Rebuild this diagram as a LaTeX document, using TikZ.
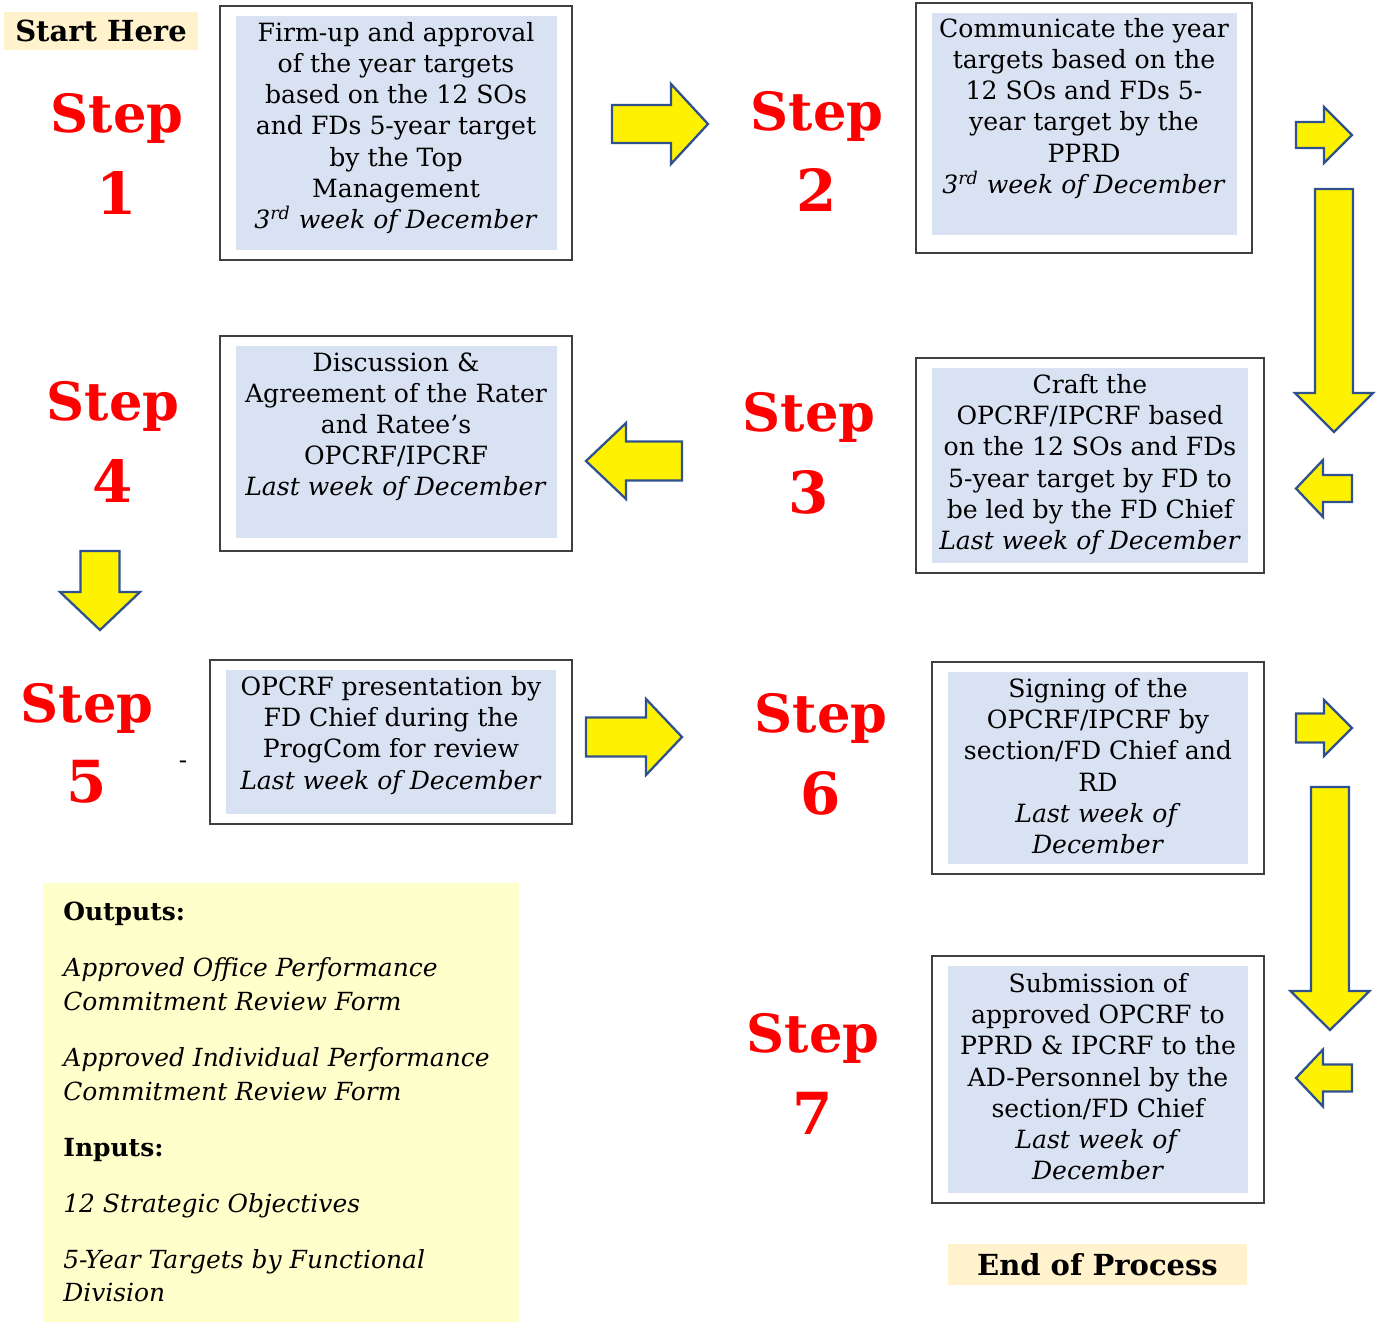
\documentclass[tikz,border=0pt]{standalone}
\usepackage{fontspec}
\setmainfont{DejaVu Serif}
\usepackage{tikz}
\usepackage{xcolor}

\definecolor{stepred}{HTML}{FF0000}
\definecolor{panelblue}{HTML}{D9E2F3}
\definecolor{tagtan}{HTML}{FFF2CC}
\definecolor{notepale}{HTML}{FFFFCC}
\definecolor{arrowline}{HTML}{2F528F}
\definecolor{framegray}{HTML}{404040}

% block arrows: tail, tip, head base, middle, head half width, shaft half width
\newcommand{\hblock}[6]{\draw[blockarrow] (#1,#4-#6) -- (#3,#4-#6) -- (#3,#4-#5) -- (#2,#4) -- (#3,#4+#5) -- (#3,#4+#6) -- (#1,#4+#6) -- cycle;}
\newcommand{\vblock}[6]{\draw[blockarrow] (#4-#6,#1) -- (#4-#6,#3) -- (#4-#5,#3) -- (#4,#2) -- (#4+#5,#3) -- (#4+#6,#3) -- (#4+#6,#1) -- cycle;}

\begin{document}
\begin{tikzpicture}[x=0.02cm,y=-0.02cm,line join=miter,
  blockarrow/.style={fill=yellow,draw=arrowline,line width=1.3pt},
  frame/.style={draw=framegray,line width=0.9pt},
  panel/.style={fill=panelblue},
  boxtext/.style={inner sep=0pt,align=center,font=\fontsize{14.3}{17.75}\selectfont},
  steplbl/.style={inner sep=0pt,text=stepred,font=\fontsize{30}{31}\bfseries\selectfont},
  stepnum/.style={inner sep=0pt,text=stepred,font=\fontsize{33}{34}\bfseries\selectfont},
  tagbox/.style={fill=tagtan,inner sep=0pt,text depth=0pt,font=\fontsize{16.5}{18}\bfseries\selectfont}]
\useasboundingbox (0,0) rectangle (1381,1324);

% start
\node[tagbox,minimum width=3.88cm,minimum height=0.76cm] (start) at (101,31) {Start Here};

% step 1
\node[steplbl,anchor=base] (s1) at (117,133) {Step};
\node[stepnum,anchor=base] (n1) at (117,215) {1};
\draw[frame] (220,6) rectangle (572,260);
\fill[panel] (236,16) rectangle (557,250);
\node[boxtext,anchor=north] (t1) at (396,22) {Firm-up and approval\\of the year targets\\based on the 12 SOs\\and FDs 5-year target\\by the Top\\Management\\\textit{3\textsuperscript{rd} week of December}};
\hblock{612}{708}{671}{124}{40}{19}

% step 2
\node[steplbl,anchor=base] (s2) at (817,131) {Step};
\node[stepnum,anchor=base] (n2) at (817,212) {2};
\draw[frame] (916,3) rectangle (1252,253);
\fill[panel] (932,13) rectangle (1237,235);
\node[boxtext,anchor=north] (t2) at (1084,18) {Communicate the year\\targets based on the\\12 SOs and FDs 5-\\year target by the\\PPRD\\\textit{3\textsuperscript{rd} week of December}};
\hblock{1296}{1352}{1324}{135}{28}{13}
\vblock{189}{432}{393}{1334}{39}{19}
\hblock{1352}{1296}{1323}{488.5}{28.5}{13.5}

% step 3
\node[steplbl,anchor=base] (s3) at (809,431) {Step};
\node[stepnum,anchor=base] (n3) at (809,513) {3};
\draw[frame] (916,358) rectangle (1264,573);
\fill[panel] (932,368) rectangle (1248,563);
\node[boxtext,anchor=north] (t3) at (1090,374) {Craft the\\OPCRF/IPCRF based\\on the 12 SOs and FDs\\5-year target by FD to\\be led by the FD Chief\\\textit{Last week of December}};
\hblock{682}{586}{626}{461}{38}{19.5}

% step 4
\node[steplbl,anchor=base] (s4) at (113,420) {Step};
\node[stepnum,anchor=base] (n4) at (113,502) {4};
\draw[frame] (220,336) rectangle (572,551);
\fill[panel] (236,346) rectangle (557,538);
\node[boxtext,anchor=north] (t4) at (396,352) {Discussion \&\\Agreement of the Rater\\and Ratee’s\\OPCRF/IPCRF\\\textit{Last week of December}};
\vblock{551}{630}{592}{100}{40}{19.5}

% step 5
\node[steplbl,anchor=base] (s5) at (87,722) {Step};
\node[stepnum,anchor=base] (n5) at (87,802) {5};
\node[inner sep=0pt,font=\fontsize{14}{17}\selectfont] (dash5) at (183,765) {-};
\draw[frame] (210,660) rectangle (572,824);
\fill[panel] (226,670) rectangle (556,814);
\node[boxtext,anchor=north] (t5) at (391,676) {OPCRF presentation by\\FD Chief during the\\ProgCom for review\\\textit{Last week of December}};
\hblock{586}{682}{646}{737}{38}{19.5}

% step 6
\node[steplbl,anchor=base] (s6) at (821,732) {Step};
\node[stepnum,anchor=base] (n6) at (821,814) {6};
\draw[frame] (932,662) rectangle (1264,874);
\fill[panel] (948,672) rectangle (1248,864);
\node[boxtext,anchor=north] (t6) at (1098,678) {Signing of the\\OPCRF/IPCRF by\\section/FD Chief and\\RD\\\textit{Last week of}\\\textit{December}};
\hblock{1296}{1352}{1324}{728}{28}{14.5}
\vblock{787}{1030}{991}{1330}{39.5}{19}
\hblock{1352}{1296}{1323}{1078}{28.5}{13.5}

% step 7
\node[steplbl,anchor=base] (s7) at (813,1052) {Step};
\node[stepnum,anchor=base] (n7) at (813,1134) {7};
\draw[frame] (932,956) rectangle (1264,1203);
\fill[panel] (948,966) rectangle (1248,1193);
\node[boxtext,anchor=north] (t7) at (1098,973) {Submission of\\approved OPCRF to\\PPRD \& IPCRF to the\\AD-Personnel by the\\section/FD Chief\\\textit{Last week of}\\\textit{December}};

% end
\node[tagbox,minimum width=5.98cm,minimum height=0.82cm] (finish) at (1097.5,1264.5) {End of Process};

% outputs and inputs
\fill[notepale] (43,883) rectangle (519,1322);
\node[inner sep=0pt,anchor=north west,align=left,font=\fontsize{14.2}{19.3}\selectfont] (notes) at (63,902)
  {\textbf{Outputs:}\\[12.5pt]
   \textit{Approved Office Performance}\\\textit{Commitment Review Form}\\[12.5pt]
   \textit{Approved Individual Performance}\\\textit{Commitment Review Form}\\[12.5pt]
   \textbf{Inputs:}\\[12.5pt]
   \textit{12 Strategic Objectives}\\[12.5pt]
   \textit{5-Year Targets by Functional}\\\textit{Division}};
\end{tikzpicture}
\end{document}
